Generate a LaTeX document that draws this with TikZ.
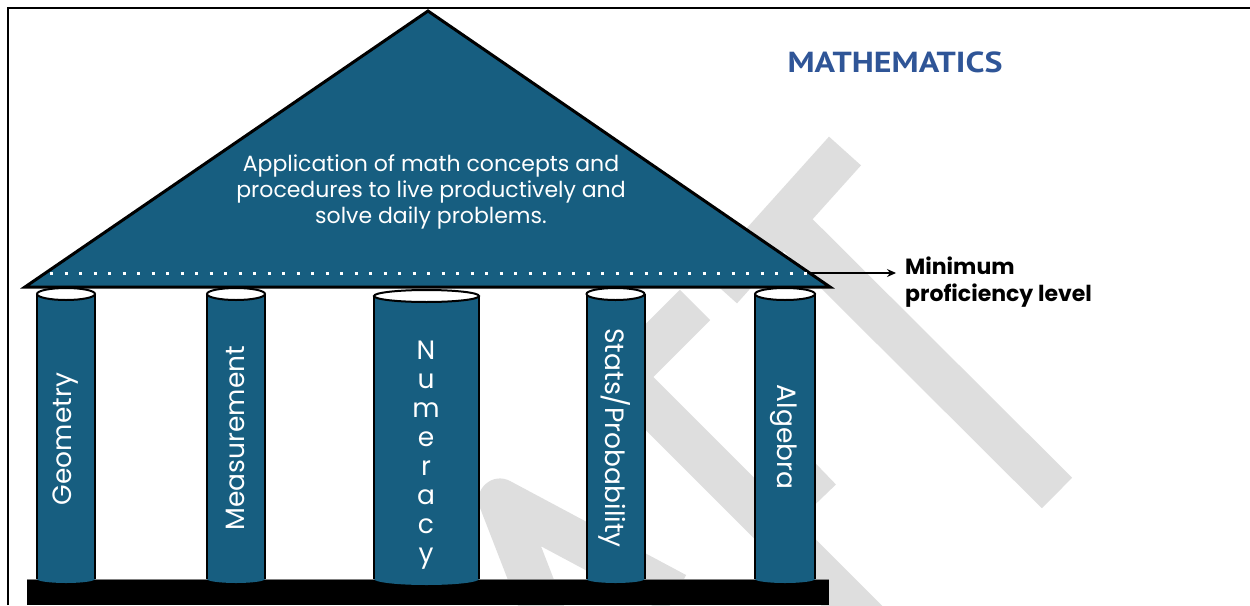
\documentclass[tikz,border=0pt]{standalone}
\usepackage{fontspec}
\setmainfont{Poppins}
\newfontfamily\titlefont{PT Sans}
\usetikzlibrary{arrows.meta}
\definecolor{pillarblue}{HTML}{175E80}
\definecolor{mathblue}{HTML}{2F5597}
\definecolor{wmgray}{HTML}{DEDEDE}
\begin{document}
\begin{tikzpicture}[x=1pt,y=-1pt,
  wm/.style={wmgray,line width=43pt},
  roofstyle/.style={fill=pillarblue,draw=black,line width=3pt,line join=miter},
  pillarbody/.style={fill=pillarblue},
  pillarside/.style={draw=black,line width=2pt},
  pillartop/.style={fill=white,draw=black,line width=2pt},
  pillarlabel/.style={text=white,font=\fontsize{26.5}{29}\selectfont,inner sep=0pt},
  rooflabel/.style={text=white,align=center,font=\fontsize{22}{26}\selectfont,inner sep=0pt},
  sidelabel/.style={align=left,anchor=west,font=\bfseries\fontsize{22}{27}\selectfont,inner sep=0pt},
  titlelabel/.style={text=mathblue,font=\titlefont\bfseries\fontsize{29}{32}\selectfont,inner sep=0pt}
]
\useasboundingbox (0,0) rectangle (1250,605);
\begin{scope}
\clip (0,0) rectangle (1250,605);
% watermark fragments
\draw[wm,line join=round] (545,616) -- (500,500) -- (676,594);
\draw[wm,line join=miter] (695,305) -- (623,377) -- (900,654);
\draw[wm] (767,521) -- (821,469);
\draw[wm] (845,151) -- (721,289);
\draw[wm] (783,220) -- (1057,493);
\end{scope}
% frame
\draw[line width=2.5pt] (8,605) -- (8,8) -- (1250,8);
% roof
\draw[roofstyle] (25,287) -- (428,11) -- (830,287) -- cycle;
\coordinate (dotstart) at (50,273);
\coordinate (dotend) at (810,273);
\draw[white,line width=3pt,dash pattern=on 3pt off 11.5pt] (dotstart) -- (dotend);
% base
\fill[black] (27,579) rectangle (829,605);
\draw[gray,line width=0.8pt] (27,579) -- (829,579);
% pillars
\newcommand\mkpillar[5]{% cx, half width, top y, bottom y, ry bottom
  \fill[pillarbody] (#1-#2,#3) -- (#1-#2,#4) arc[start angle=180,end angle=0,x radius=#2,y radius=#5] -- (#1+#2,#3) -- cycle;
  \draw[pillarside] (#1-#2,#3) -- (#1-#2,#4);
  \draw[pillarside] (#1+#2,#3) -- (#1+#2,#4);
  \draw[pillartop] (#1,#3) ellipse[x radius=#2,y radius=6];
}
\mkpillar{66}{29}{294}{579}{4}
\mkpillar{236}{29}{294}{579}{4}
\mkpillar{426.5}{52.5}{296}{579}{6}
\mkpillar{615.5}{29}{294}{579}{4}
\mkpillar{785}{30}{294}{579}{4}
% labels
\node[pillarlabel,rotate=90] (geo) at (66,439) {Geometry};
\node[pillarlabel,rotate=90] (meas) at (235,438) {Measurement};
\node[pillarlabel,align=center] (num) at (426,455) {N\\u\\m\\e\\r\\a\\c\\y};
\node[pillarlabel,rotate=-90] (stats) at (615,438) {Stats/Probability};
\node[pillarlabel,rotate=-90] (alg) at (784,437) {Algebra};
\node[rooflabel] (concept) at (431,192) {Application of math concepts and\\procedures to live productively and\\solve daily problems.};
\node[titlelabel] (title) at (895,62) {\scalebox{1.17}[1]{MATHEMATICS}};
\node[sidelabel] (mpl) at (905,282) {Minimum\\proficiency level};
\draw[line width=1.2pt,-{Stealth[length=9pt,width=8pt]},shorten >=9pt] (dotend) -- (dotend -| mpl.west);
\end{tikzpicture}
\end{document}
